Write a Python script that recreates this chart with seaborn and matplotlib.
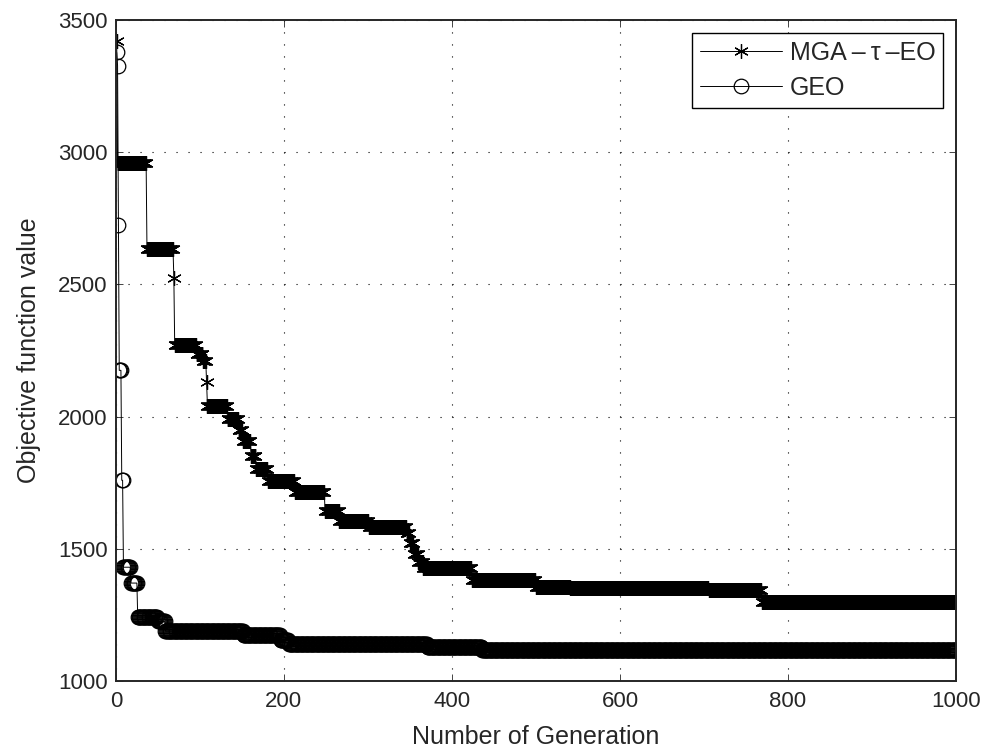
"""Objective function value vs. generation: MGA-tau-EO vs GEO."""

import numpy as np
import pandas as pd
import matplotlib
matplotlib.use('Agg')
import matplotlib.pyplot as plt
import seaborn as sns

n_gen = 1000

# best-so-far value, given as (first generation of a level, level value)
mga_start = [1, 2, 37, 69, 70, 96, 104, 108, 109, 133, 146, 151, 161, 167,
             181, 213, 249, 266, 301, 346, 350, 355, 360, 366, 424, 500,
             541, 706, 769]
mga_value = [3420, 2960, 2633, 2526, 2272, 2235, 2210, 2130, 2040, 1990,
             1950, 1906, 1850, 1800, 1755, 1715, 1642, 1604, 1581, 1560,
             1520, 1480, 1450, 1426, 1381, 1355, 1350, 1345, 1300]

geo_start = [1, 2, 3, 4, 7, 9, 18, 26, 50, 59, 152, 196, 206, 371, 436]
geo_value = [3378, 3328, 2726, 2175, 1759, 1430, 1370, 1241, 1226, 1188,
             1173, 1155, 1140, 1128, 1117]

labels = ['MGA\u2009\u2013\u2009\u03c4\u2009\u2013EO', 'GEO']
markers = [(6, 2, 0), 'o']


def expand(starts, values):
    runs = np.diff(starts + [n_gen + 1])
    return np.repeat(values, runs)


gens = np.arange(1, n_gen + 1)
df = pd.DataFrame({
    'gen': np.concatenate([gens, gens]),
    'value': np.concatenate([expand(mga_start, mga_value),
                             expand(geo_start, geo_value)]),
    'method': [labels[0]] * n_gen + [labels[1]] * n_gen,
})

sns.set_style('ticks')
plt.rcParams['font.family'] = ['Liberation Sans', 'DejaVu Sans']
plt.rcParams['xtick.direction'] = 'in'
plt.rcParams['ytick.direction'] = 'in'

fig = plt.figure(figsize=(9.99, 7.49), dpi=100)
ax = fig.add_axes([0.116, 0.091, 0.841, 0.882])

for lab, mk in zip(labels, markers):
    sns.lineplot(
        data=df[df['method'] == lab], x='gen', y='value',
        color='k', estimator=None, legend=False, ax=ax,
        marker=mk, linewidth=0.7, markersize=10.5, markeredgewidth=0.9,
        markeredgecolor='k', markerfacecolor='none', label=lab,
    )

ax.set_xlim(0, 1000)
ax.set_ylim(1000, 3500)
ax.set_xticks(np.arange(0, 1001, 200))
ax.set_yticks(np.arange(1000, 3501, 500))
ax.tick_params(labelsize=16, length=5, width=0.6, top=True, right=True)
ax.tick_params(axis='x', pad=7)
ax.tick_params(axis='y', pad=6)
ax.grid(True, linestyle=(0, (1, 9.8)), color='k', linewidth=0.8)
for s in ax.spines.values():
    s.set_linewidth(1.4)

ax.set_xlabel('Number of Generation', fontsize=18, labelpad=10)
ax.set_ylabel('Objective function value', fontsize=18, labelpad=12)

leg = ax.legend(ax.lines[:2], labels, loc='upper right',
                bbox_to_anchor=(0.9845, 0.98), fontsize=18, numpoints=1,
                handlelength=3.3, handletextpad=0.3, borderpad=0.3,
                labelspacing=0.45, fancybox=False, framealpha=1,
                borderaxespad=0)
leg.get_frame().set_edgecolor('k')
leg.get_frame().set_linewidth(1.0)

plt.savefig('out.png', dpi=100)
plt.close()
